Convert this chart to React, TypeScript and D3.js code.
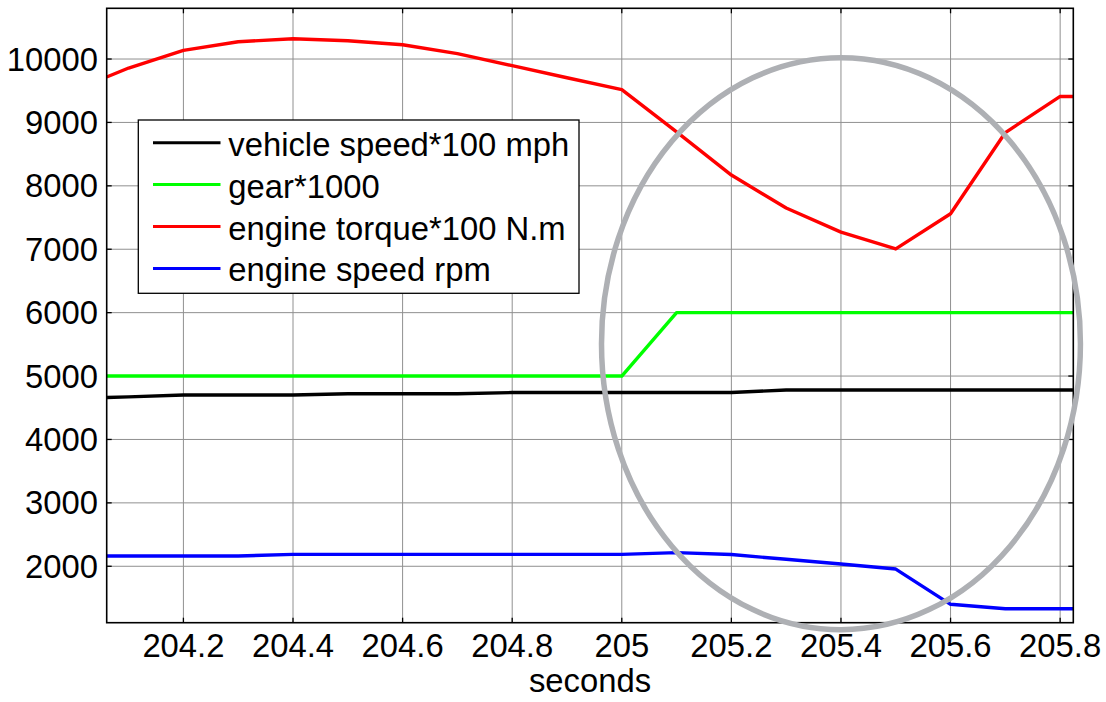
import React from "react";
import * as d3 from "d3";

// Sample times (s)
const times = [
  204.06, 204.1, 204.2, 204.3, 204.4, 204.5, 204.6, 204.7, 204.8, 204.9,
  205.0, 205.1, 205.2, 205.3, 205.4, 205.5, 205.6, 205.7, 205.8, 205.824,
];

const vehicleSpeed = [
  4662, 4672, 4700, 4700, 4700, 4720, 4720, 4720, 4740, 4740,
  4740, 4740, 4740, 4780, 4780, 4780, 4780, 4780, 4780, 4780,
];
const gear = [
  5000, 5000, 5000, 5000, 5000, 5000, 5000, 5000, 5000, 5000,
  5000, 6000, 6000, 6000, 6000, 6000, 6000, 6000, 6000, 6000,
];
const engineTorque = [
  9716, 9858, 10136, 10273, 10320, 10289, 10225, 10085, 9895, 9705,
  9516, 8850, 8170, 7650, 7270, 7005, 7560, 8840, 9410, 9410,
];
const engineSpeed = [
  2161, 2161, 2161, 2161, 2188, 2188, 2188, 2188, 2188, 2188,
  2188, 2215, 2185, 2110, 2035, 1956, 1400, 1330, 1330, 1330,
];

const seriesNames = [
  "vehicle speed*100 mph",
  "gear*1000",
  "engine torque*100 N.m",
  "engine speed rpm",
];
const seriesColors = ["#000000", "#00ff00", "#ff0000", "#0000ff"];
const seriesValues = [vehicleSpeed, gear, engineTorque, engineSpeed];

const xTicks = [204.2, 204.4, 204.6, 204.8, 205.0, 205.2, 205.4, 205.6, 205.8];
const yTicks = [2000, 3000, 4000, 5000, 6000, 7000, 8000, 9000, 10000];

// Highlight ellipse around the shift event, in data units
const highlightCenter = [205.4, 5510];
const highlightRadius = [0.437, 4510];

const W = 1106;
const H = 702;
const plot = { left: 106.7, right: 1073.3, top: 8.3, bottom: 622.7 };
const FONT = "'Liberation Sans', Arial, Helvetica, sans-serif";
const FS = 32.8;

export default function App() {
  const x = d3.scaleLinear().domain([204.06, 205.824]).range([plot.left, plot.right]);
  const y = d3.scaleLinear().domain([1110, 10800]).range([plot.bottom, plot.top]);

  const line = d3
    .line<number>()
    .x((_, i) => x(times[i]))
    .y((v) => y(v));

  const gridColor = "#909090";
  const tickLen = 5;

  const ex = x(highlightCenter[0]);
  const ey = y(highlightCenter[1]);
  const erx = x(highlightCenter[0] + highlightRadius[0]) - ex;
  const ery = ey - y(highlightCenter[1] + highlightRadius[1]);

  const legend = { x: 138.3, y: 120, w: 440.7, h: 173.3, rowY0: 142.7, rowStep: 41.9 };

  return (
    <svg
      width={W}
      height={H}
      style={{ position: "absolute", left: 0, top: 0, background: "#fff" }}
      fontFamily={FONT}
    >
      <rect x={0} y={0} width={W} height={H} fill="#fff" />

      {/* grid */}
      <g stroke={gridColor} strokeWidth={1}>
        {xTicks.map((t) => (
          <line key={"gx" + t} x1={x(t)} x2={x(t)} y1={plot.top} y2={plot.bottom} />
        ))}
        {yTicks.map((t) => (
          <line key={"gy" + t} x1={plot.left} x2={plot.right} y1={y(t)} y2={y(t)} />
        ))}
      </g>

      {/* tick marks, pointing inward on all four sides */}
      <g stroke="#000" strokeWidth={1.3}>
        {xTicks.map((t) => (
          <g key={"tx" + t}>
            <line x1={x(t)} x2={x(t)} y1={plot.bottom} y2={plot.bottom - tickLen} />
            <line x1={x(t)} x2={x(t)} y1={plot.top} y2={plot.top + tickLen} />
          </g>
        ))}
        {yTicks.map((t) => (
          <g key={"ty" + t}>
            <line x1={plot.left} x2={plot.left + tickLen} y1={y(t)} y2={y(t)} />
            <line x1={plot.right} x2={plot.right - tickLen} y1={y(t)} y2={y(t)} />
          </g>
        ))}
      </g>

      {/* data lines */}
      <g fill="none" strokeWidth={3.4} strokeLinejoin="round">
        {seriesValues.map((vals, i) => (
          <path key={seriesNames[i]} d={line(vals) || ""} stroke={seriesColors[i]} />
        ))}
      </g>

      {/* axes box */}
      <rect
        x={plot.left}
        y={plot.top}
        width={plot.right - plot.left}
        height={plot.bottom - plot.top}
        fill="none"
        stroke="#000"
        strokeWidth={1.6}
      />

      {/* tick labels */}
      <g fontSize={FS} fill="#000">
        {xTicks.map((t) => (
          <text key={"lx" + t} x={x(t)} y={657} textAnchor="middle">
            {d3.format("~f")(t)}
          </text>
        ))}
        {yTicks.map((t) => (
          <text key={"ly" + t} x={98} y={y(t) + 11.5} textAnchor="end">
            {t}
          </text>
        ))}
        <text x={(plot.left + plot.right) / 2} y={692} textAnchor="middle">
          seconds
        </text>
      </g>

      {/* legend */}
      <g>
        <rect
          x={legend.x}
          y={legend.y}
          width={legend.w}
          height={legend.h}
          fill="#fff"
          stroke="#000"
          strokeWidth={1.3}
        />
        {seriesNames.map((name, i) => {
          const ry = legend.rowY0 + i * legend.rowStep;
          return (
            <g key={"lg" + name}>
              <line x1={153} x2={220.5} y1={ry} y2={ry} stroke={seriesColors[i]} strokeWidth={3} />
              <text x={228.3} y={ry + 13} fontSize={FS} fill="#000">
                {name}
              </text>
            </g>
          );
        })}
      </g>

      {/* highlight ellipse */}
      <ellipse cx={ex} cy={ey} rx={erx} ry={ery} fill="none" stroke="#aeb0b4" strokeWidth={5.5} />
    </svg>
  );
}
